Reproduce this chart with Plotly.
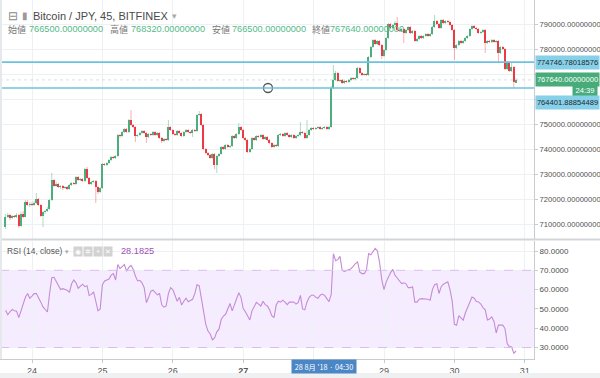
import plotly.graph_objects as go
from datetime import datetime, timedelta

# ---------------- data (prices in thousand JPY, 45-minute bars) ----------------
bar_start = datetime(2018, 8, 23, 15, 0)
bar_minutes = 45

open_k = [
    708.8, 712.8, 713.6, 712.4, 713.2, 712.8, 713.6, 709.2, 714.0, 713.0,
    718.8, 717.6, 718.0, 717.6, 718.4, 720.0, 717.6, 713.2, 714.8, 715.2,
    716.0, 719.6, 727.6, 725.2, 726.0, 724.8, 725.2, 724.4, 724.8, 724.0,
    725.6, 726.4, 726.0, 728.8, 727.6, 728.0, 727.2, 732.0, 728.4, 726.0,
    726.8, 727.2, 724.8, 722.8, 724.4, 734.0, 733.6, 734.4, 735.6, 736.8,
    736.4, 737.2, 745.6, 745.2, 746.8, 748.0, 746.8, 751.6, 749.6, 748.8,
    745.2, 745.6, 746.4, 747.2, 746.4, 744.8, 746.0, 745.6, 746.8, 745.6,
    746.4, 744.4, 743.2, 744.0, 743.6, 748.8, 747.6, 746.0, 745.6, 747.2,
    746.4, 745.2, 746.8, 747.6, 746.8, 746.4, 747.6, 747.2, 753.6, 754.0,
    749.6, 740.0, 738.4, 737.6, 736.4, 738.0, 733.6, 737.2, 738.0, 740.8,
    740.0, 741.6, 740.8, 741.2, 745.2, 744.4, 746.0, 748.8, 747.6, 744.4,
    743.6, 738.8, 740.0, 744.4, 743.6, 745.2, 744.8, 745.6, 744.0, 744.8,
    743.6, 742.4, 740.8, 741.6, 741.2, 745.6, 746.0, 745.2, 746.4, 745.6,
    744.8, 745.6, 744.4, 745.2, 745.6, 746.8, 746.4, 744.4, 745.6, 747.6,
    748.4, 748.0, 748.4, 748.8, 748.0, 748.4, 748.8, 748.0, 748.8, 764.4,
    767.6, 770.4, 767.2, 767.6, 766.4, 767.2, 766.8, 767.6, 768.4, 768.0,
    768.4, 772.4, 770.4, 769.6, 770.0, 769.6, 776.8, 780.8, 783.6, 782.0,
    783.2, 781.6, 777.2, 779.6, 784.4, 790.0, 788.4, 789.6, 790.4, 787.6,
    787.2, 788.0, 786.4, 787.6, 788.8, 786.4, 787.2, 783.2, 784.0, 785.2,
    784.4, 785.2, 786.0, 785.2, 786.0, 788.8, 791.2, 790.0, 788.4, 791.6,
    790.4, 791.2, 790.8, 789.6, 787.6, 780.4, 781.6, 783.2, 782.4, 783.2,
    784.4, 785.2, 788.0, 789.2, 788.4, 788.0, 786.4, 786.8, 787.6, 782.4,
    783.2, 782.8, 783.6, 782.8, 783.2, 778.4, 780.8, 780.0, 772.0, 774.8,
    771.2, 772.8, 766.5,
]
high_k = [
    714.0, 714.4, 714.0, 713.6, 713.6, 714.4, 714.0, 714.8, 715.2, 719.6,
    719.6, 718.8, 718.8, 719.2, 722.4, 720.4, 718.0, 715.2, 715.6, 716.8,
    720.0, 730.4, 728.0, 726.8, 726.4, 725.6, 725.6, 725.2, 725.2, 726.0,
    726.8, 726.8, 729.2, 729.2, 728.4, 728.4, 732.4, 732.8, 728.8, 727.2,
    727.6, 727.6, 725.2, 724.8, 734.4, 734.4, 734.8, 736.0, 737.2, 737.2,
    737.6, 746.0, 746.0, 747.2, 748.4, 748.4, 752.0, 755.6, 750.0, 749.2,
    746.0, 746.8, 747.6, 747.6, 746.8, 746.4, 746.4, 747.2, 747.2, 746.8,
    746.8, 744.8, 744.4, 744.4, 751.6, 749.2, 748.0, 746.4, 747.6, 747.6,
    746.8, 747.2, 748.0, 748.0, 747.2, 748.0, 748.0, 754.0, 755.2, 754.4,
    750.0, 740.4, 738.8, 738.0, 738.4, 738.4, 737.6, 738.4, 741.2, 741.2,
    742.0, 742.0, 741.6, 745.6, 745.6, 746.4, 750.4, 749.2, 748.0, 744.8,
    744.0, 740.4, 744.8, 744.8, 745.6, 745.6, 746.0, 746.0, 745.2, 745.2,
    744.0, 742.8, 742.0, 742.0, 746.0, 746.4, 746.4, 746.8, 746.8, 746.0,
    746.0, 746.0, 745.6, 746.0, 750.8, 747.2, 746.8, 751.6, 748.0, 748.8,
    748.8, 748.8, 749.2, 749.2, 748.8, 749.2, 749.2, 749.2, 765.2, 773.6,
    771.2, 770.8, 768.0, 768.0, 767.6, 767.6, 768.0, 768.8, 768.8, 768.8,
    772.8, 772.8, 770.8, 770.4, 770.4, 777.2, 781.2, 784.0, 784.0, 783.6,
    783.6, 782.0, 780.0, 784.8, 790.4, 790.4, 790.0, 791.2, 792.8, 788.0,
    788.4, 788.4, 788.0, 789.2, 789.2, 787.6, 787.6, 784.4, 785.6, 785.6,
    785.6, 786.4, 786.4, 786.4, 789.2, 793.6, 791.6, 790.4, 792.0, 792.0,
    791.6, 791.6, 791.2, 790.0, 788.0, 782.0, 783.6, 783.6, 783.6, 784.8,
    785.6, 788.4, 789.6, 789.6, 788.8, 788.4, 787.2, 788.0, 788.0, 783.6,
    783.6, 784.0, 784.0, 783.6, 783.6, 781.2, 781.2, 780.4, 775.2, 775.2,
    774.4, 773.2, 768.32,
]
low_k = [
    708.0, 712.4, 711.6, 712.0, 712.4, 712.4, 708.4, 708.8, 712.4, 712.8,
    717.2, 716.8, 717.2, 717.2, 718.0, 717.2, 712.8, 708.8, 714.0, 714.8,
    715.6, 719.2, 724.8, 724.8, 724.4, 724.0, 723.6, 724.0, 723.6, 723.6,
    725.2, 725.6, 725.6, 727.2, 727.2, 726.8, 726.8, 728.0, 725.6, 725.6,
    726.4, 718.4, 722.0, 722.4, 724.0, 733.2, 733.2, 734.0, 735.2, 736.0,
    736.0, 736.8, 744.4, 744.8, 746.4, 746.4, 746.4, 749.2, 748.4, 742.8,
    744.8, 745.2, 746.0, 746.0, 742.4, 744.4, 745.2, 745.2, 745.2, 745.2,
    744.0, 742.4, 742.8, 743.2, 743.2, 747.2, 745.6, 745.2, 745.2, 746.0,
    744.8, 744.8, 746.4, 746.4, 746.0, 744.8, 746.8, 746.8, 753.2, 749.2,
    739.6, 738.0, 737.2, 736.0, 736.0, 732.0, 730.4, 736.8, 737.6, 739.6,
    739.6, 740.4, 740.4, 740.8, 744.0, 744.0, 745.6, 747.2, 744.0, 743.2,
    738.4, 738.4, 739.6, 743.2, 743.2, 744.4, 744.4, 743.6, 743.6, 743.2,
    742.0, 740.4, 740.4, 740.8, 740.8, 745.2, 744.8, 744.8, 745.2, 744.4,
    744.4, 744.0, 744.0, 744.8, 745.2, 746.0, 744.0, 744.0, 745.2, 747.2,
    747.6, 747.6, 748.0, 747.6, 747.6, 748.0, 747.6, 747.6, 748.4, 764.0,
    767.2, 766.8, 766.8, 766.0, 766.0, 766.4, 766.4, 767.2, 767.6, 767.6,
    768.0, 770.0, 769.2, 769.2, 769.2, 769.2, 776.4, 780.4, 781.6, 781.6,
    781.2, 776.0, 776.8, 779.2, 784.0, 788.0, 788.0, 789.2, 787.2, 786.8,
    786.8, 782.4, 786.0, 787.2, 786.0, 786.0, 782.8, 782.8, 783.6, 784.0,
    784.0, 784.8, 784.8, 784.8, 785.6, 788.4, 789.6, 788.0, 788.0, 790.0,
    790.0, 790.4, 789.2, 787.2, 775.6, 780.0, 781.2, 782.0, 782.0, 782.8,
    784.0, 784.8, 787.6, 788.0, 787.6, 786.0, 786.0, 786.4, 778.4, 782.0,
    782.4, 782.4, 782.4, 782.4, 774.8, 778.0, 779.6, 771.6, 771.6, 770.8,
    770.8, 764.4, 766.5,
]
close_k = [
    712.8, 713.6, 712.4, 713.2, 712.8, 713.6, 709.2, 714.0, 713.0, 718.8,
    717.6, 718.0, 717.6, 718.4, 720.0, 717.6, 713.2, 714.8, 715.2, 716.0,
    719.6, 727.6, 725.2, 726.0, 724.8, 725.2, 724.4, 724.8, 724.0, 725.6,
    726.4, 726.0, 728.8, 727.6, 728.0, 727.2, 732.0, 728.4, 726.0, 726.8,
    727.2, 724.8, 722.8, 724.4, 734.0, 733.6, 734.4, 735.6, 736.8, 736.4,
    737.2, 745.6, 745.2, 746.8, 748.0, 746.8, 751.6, 749.6, 748.8, 745.2,
    745.6, 746.4, 747.2, 746.4, 744.8, 746.0, 745.6, 746.8, 745.6, 746.4,
    744.4, 743.2, 744.0, 743.6, 748.8, 747.6, 746.0, 745.6, 747.2, 746.4,
    745.2, 746.8, 747.6, 746.8, 746.4, 747.6, 747.2, 753.6, 754.0, 749.6,
    740.0, 738.4, 737.6, 736.4, 738.0, 733.6, 737.2, 738.0, 740.8, 740.0,
    741.6, 740.8, 741.2, 745.2, 744.4, 746.0, 748.8, 747.6, 744.4, 743.6,
    738.8, 740.0, 744.4, 743.6, 745.2, 744.8, 745.6, 744.0, 744.8, 743.6,
    742.4, 740.8, 741.6, 741.2, 745.6, 746.0, 745.2, 746.4, 745.6, 744.8,
    745.6, 744.4, 745.2, 745.6, 746.8, 746.4, 744.4, 745.6, 747.6, 748.4,
    748.0, 748.4, 748.8, 748.0, 748.4, 748.8, 748.0, 748.8, 764.4, 767.6,
    770.4, 767.2, 767.6, 766.4, 767.2, 766.8, 767.6, 768.4, 768.0, 768.4,
    772.4, 770.4, 769.6, 770.0, 769.6, 776.8, 780.8, 783.6, 782.0, 783.2,
    781.6, 777.2, 779.6, 784.4, 790.0, 788.4, 789.6, 790.4, 787.6, 787.2,
    788.0, 786.4, 787.6, 788.8, 786.4, 787.2, 783.2, 784.0, 785.2, 784.4,
    785.2, 786.0, 785.2, 786.0, 788.8, 791.2, 790.0, 788.4, 791.6, 790.4,
    791.2, 790.8, 789.6, 787.6, 780.4, 781.6, 783.2, 782.4, 783.2, 784.4,
    785.2, 788.0, 789.2, 788.4, 788.0, 786.4, 786.8, 787.6, 782.4, 783.2,
    782.8, 783.6, 782.8, 783.2, 778.4, 780.8, 780.0, 772.0, 774.8, 771.2,
    772.8, 766.8, 767.64,
]
rsi = [
    49.3, 47.0, 48.5, 49.7, 49.0, 48.8, 45.5, 49.0, 51.4, 56.0,
    58.0, 55.5, 56.6, 57.9, 58.0, 55.3, 53.5, 51.0, 49.5, 48.4,
    58.0, 66.2, 66.4, 64.5, 62.0, 60.0, 60.5, 60.0, 59.7, 58.5,
    63.0, 65.0, 63.5, 60.7, 62.0, 62.8, 61.5, 62.0, 57.0, 57.5,
    58.8, 53.0, 49.0, 50.0, 62.5, 64.5, 64.8, 65.5, 67.5, 68.3,
    65.0, 73.0, 70.9, 72.0, 73.0, 69.5, 71.5, 72.5, 70.5, 67.0,
    64.5, 64.8, 63.5, 61.0, 53.2, 56.0, 59.2, 59.7, 58.5, 57.3,
    57.9, 52.0, 50.9, 51.5, 57.9, 61.0, 60.0, 56.5, 54.0, 56.0,
    52.0, 54.0, 55.5, 53.7, 54.2, 55.0, 57.9, 62.5, 62.0, 55.0,
    50.0, 42.0, 38.5, 37.0, 34.0, 35.0, 38.1, 39.5, 44.5, 46.3,
    47.2, 50.0, 52.8, 49.0, 52.0, 56.0, 58.4, 56.0, 50.2, 48.5,
    46.5, 44.3, 49.0, 51.0, 53.4, 52.5, 51.5, 54.0, 52.2, 51.5,
    49.5, 46.5, 45.5, 52.0, 54.0, 53.5, 54.5, 53.5, 52.2, 53.5,
    53.6, 53.6, 52.5, 53.2, 57.0, 50.0, 49.5, 53.6, 56.0, 57.1,
    57.1, 56.0, 55.5, 57.1, 57.7, 57.0, 55.3, 53.8, 57.5, 78.6,
    75.0, 75.5, 77.2, 70.0, 69.4, 70.0, 70.4, 70.8, 72.0, 73.5,
    74.3, 69.0, 68.3, 68.3, 70.0, 78.6, 78.0, 79.5, 81.3, 80.0,
    74.0, 65.0, 60.0, 64.0, 66.5, 68.8, 70.5, 67.4, 66.0, 64.3,
    63.1, 63.5, 63.0, 61.0, 61.0, 61.5, 53.5, 53.5, 55.0, 55.3,
    55.3, 55.3, 55.0, 54.5, 60.0, 62.5, 63.0, 58.0, 61.5, 62.8,
    63.4, 64.0, 60.0, 54.0, 42.0, 41.5, 46.5, 45.5, 44.2, 48.0,
    51.0, 53.6, 56.2, 55.5, 53.8, 53.6, 52.5, 50.7, 49.5, 44.3,
    44.8, 45.9, 43.5, 37.5, 41.6, 41.6, 41.6, 39.8, 32.0, 30.3,
    30.3, 27.0, 28.1825,
]

line_upper = 774746.78018576
line_lower = 764401.88854489
price_ticks = [710000, 720000, 730000, 740000, 750000, 760000, 770000, 780000, 790000]
price_hidden = [760000, 770000]          # covered by the price labels in the reference
rsi_ticks = [30, 40, 50, 60, 70, 80]
day_ticks = [datetime(2018, 8, d) for d in range(24, 32)]
day_labels = ["24", "25", "26", "<b>27</b>", "", "29", "30", "31"]
crosshair_label = "28 8月 '18 · 04:30"
countdown_label = "24:39"

# ---------------- derived ----------------
times = [bar_start + timedelta(minutes=bar_minutes * i) for i in range(len(close_k))]
O = [v * 1000 for v in open_k]
H = [v * 1000 for v in high_k]
L = [v * 1000 for v in low_k]
C = [v * 1000 for v in close_k]

UP = "#4caf7d"
DOWN = "#ec3a45"
UP_WICK = "rgba(76,175,125,0.45)"
DOWN_WICK = "rgba(236,58,69,0.40)"
GRID = "#eef1f3"
AXIS = "#c8cbcf"
TXT = "#4a4a4a"
FONT = "Liberation Sans, Arial, sans-serif"
JP = "Noto Sans CJK JP, sans-serif"
AXSIZE = 7.6

PW, PH = 534.0, 359.0


def ax(xp):
    return xp / PW


def ay(yp):
    return (PH - yp) / PH


wx_up, wy_up, wx_dn, wy_dn = [], [], [], []
for t, o, h, l, c in zip(times, O, H, L, C):
    if c >= o:
        wx_up += [t, t, None]
        wy_up += [l, h, None]
    else:
        wx_dn += [t, t, None]
        wy_dn += [l, h, None]

body_base = [min(o, c) for o, c in zip(O, C)]
body_h = [max(abs(c - o), 350) for o, c in zip(O, C)]
body_col = [UP if c >= o else DOWN for o, c in zip(O, C)]

fig = go.Figure()
fig.add_trace(go.Scatter(x=wx_up, y=wy_up, mode="lines", line=dict(color=UP_WICK, width=1),
                         hoverinfo="skip", xaxis="x", yaxis="y"))
fig.add_trace(go.Scatter(x=wx_dn, y=wy_dn, mode="lines", line=dict(color=DOWN_WICK, width=1),
                         hoverinfo="skip", xaxis="x", yaxis="y"))
fig.add_trace(go.Bar(x=times, y=body_h, base=body_base, width=bar_minutes * 60 * 1000 * 0.72,
                     marker=dict(color=body_col, line=dict(width=0)), xaxis="x", yaxis="y"))
fig.add_trace(go.Scatter(x=times, y=rsi, mode="lines", line=dict(color="#c58bd6", width=1.1),
                         xaxis="x2", yaxis="y2"))
fig.add_trace(go.Scatter(x=[datetime(2018, 8, 27, 8, 27)], y=[line_lower], mode="markers",
                         marker=dict(size=9, color="white", line=dict(color="#555555", width=1.3)),
                         xaxis="x", yaxis="y", cliponaxis=False))

t0 = datetime(2018, 8, 24) - timedelta(days=32 / 70.4)
t1 = datetime(2018, 8, 24) + timedelta(days=502 / 70.4)

shapes = [
    dict(type="rect", xref="paper", yref="y2", x0=0, x1=1, y0=30, y1=70,
         fillcolor="rgba(160,80,255,0.10)", line=dict(width=0), layer="below"),
    dict(type="line", xref="paper", yref="y2", x0=0, x1=1, y0=70, y1=70,
         line=dict(color="#dcbdec", width=1, dash="dash")),
    dict(type="line", xref="paper", yref="y2", x0=0, x1=1, y0=30, y1=30,
         line=dict(color="#dcbdec", width=1, dash="dash")),
    dict(type="line", xref="paper", yref="y", x0=0, x1=1, y0=C[-1], y1=C[-1],
         line=dict(color="rgba(76,175,125,0.30)", width=1, dash="dot")),
    dict(type="line", xref="paper", yref="y", x0=0, x1=1, y0=line_upper, y1=line_upper,
         line=dict(color="#6cc3df", width=1.6)),
    dict(type="line", xref="paper", yref="y", x0=0, x1=1, y0=line_lower, y1=line_lower,
         line=dict(color="#6cc3df", width=1.6)),
    dict(type="line", xref="paper", yref="paper", x0=0, x1=600 / PW, y0=ay(239.5), y1=ay(239.5),
         line=dict(color="#d3d6d9", width=2)),
    dict(type="rect", xref="paper", yref="paper", x0=0, x1=600 / PW, y0=ay(378), y1=ay(373),
         fillcolor="#eef0f2", line=dict(width=0)),
    dict(type="rect", xref="paper", yref="paper", x0=0, x1=ax(2), y0=0, y1=1,
         fillcolor="#e6e9ec", line=dict(width=0)),
]

ann = []


def label(x, y, text, size=9, color=TXT, family=FONT, anchor="left", **kw):
    ann.append(dict(xref="paper", yref="paper", x=ax(x), y=ay(y), text=text, showarrow=False,
                    xanchor=anchor, yanchor="middle", font=dict(size=size, color=color, family=family), **kw))


# top legend
label(6, 15.5, "⊟", size=12, color="#8a8a8a")
label(20, 15.5, "▮", size=10, color="#9a9a9a")
label(31, 15.5, "Bitcoin / JPY, 45, BITFINEX", size=11, color=TXT)
label(170, 15.5, "▾", size=9, color="#aaaaaa")
VAL = "#53b987"
label(6, 29.5, "始値", size=9, color="#777777", family=JP)
label(27, 29.5, f"{O[-1]:.8f}", size=9.2, color=VAL)
label(108, 29.5, "高値", size=9, color="#777777", family=JP)
label(129, 29.5, f"{H[-1]:.8f}", size=9.2, color=VAL)
label(210, 29.5, "安値", size=9, color="#777777", family=JP)
label(230, 29.5, f"{L[-1]:.8f}", size=9.2, color=VAL)
label(310, 29.5, "終値", size=9, color="#777777", family=JP)
label(328, 29.5, f"{C[-1]:.8f}", size=9.2, color=VAL)

# RSI legend
label(5, 251, "RSI (14, close)", size=8.4, color="#555555")
label(63, 251, "▾", size=7, color="#aaaaaa")
for i, g in enumerate(["◉", "✲", "+", "✕"]):
    label(73 + i * 10, 251, g, size=7, color="white", bgcolor="#d2d2d2", width=8, height=9,
          borderpad=0, align="center")
label(119, 251, f"{rsi[-1]:.4f}", size=9.2, color="#9c4fb7")

# right price labels
ann.append(dict(xref="paper", yref="y", x=ax(535), y=line_upper, text=f"{line_upper:.8f}",
                showarrow=False, xanchor="left", yanchor="middle", bgcolor="#86d0e8",
                font=dict(size=AXSIZE, color="#1e2a30", family=FONT), width=63, height=13,
                align="center", borderpad=0))
ann.append(dict(xref="paper", yref="y", x=ax(535), y=C[-1], text=f"{C[-1]:.8f}",
                showarrow=False, xanchor="left", yanchor="middle", bgcolor="#47ac79",
                font=dict(size=AXSIZE, color="white", family=FONT), width=63, height=13,
                align="center", borderpad=0))
label(598, 91, countdown_label, size=AXSIZE, color="white", family=FONT, anchor="right",
      bgcolor="#47ac79", width=24, height=11, borderpad=0, align="center")
label(535, 102, f"{line_lower:.8f}", size=AXSIZE, color="#1e2a30", family=FONT,
      bgcolor="#86d0e8", width=63, height=13, borderpad=0, align="center")

# crosshair date label
label(323.5, 366.5, crosshair_label, size=7.3, color="white", family=JP, anchor="center",
      bgcolor="#4b86c5", width=64, height=13, borderpad=0, align="center")

fig.update_layout(
    width=600, height=378,
    margin=dict(l=0, r=66, t=0, b=19),
    paper_bgcolor="white", plot_bgcolor="white",
    showlegend=False, bargap=0, hovermode=False,
    xaxis=dict(domain=[0, 1], range=[t0, t1], type="date", anchor="y",
               tickvals=day_ticks, showticklabels=False, showgrid=True, gridcolor=GRID,
               zeroline=False, showline=False),
    xaxis2=dict(matches="x", type="date", anchor="y2", tickvals=day_ticks, ticktext=day_labels,
                showgrid=True, gridcolor=GRID, showline=True, linecolor=AXIS, linewidth=1,
                ticks="outside", ticklen=3, tickcolor=AXIS, zeroline=False,
                tickfont=dict(size=9, color="#555555", family=FONT)),
    yaxis=dict(domain=[(PH - 239) / PH, 1], range=[704000, 799600], side="right", anchor="x",
               tickvals=price_ticks,
               ticktext=["" if v in price_hidden else f"{v:.8f}" for v in price_ticks],
               showgrid=True, gridcolor=GRID, zeroline=False, showline=True, linecolor=AXIS,
               ticks="outside", ticklen=3, tickcolor=AXIS,
               tickfont=dict(size=AXSIZE, color="#4f4f4f", family=FONT)),
    yaxis2=dict(domain=[0, (PH - 241) / PH], range=[24.04, 85.18], side="right", anchor="x2",
                tickvals=rsi_ticks, ticktext=[f"{v:.4f}" for v in rsi_ticks],
                showgrid=True, gridcolor=GRID, zeroline=False, showline=True, linecolor=AXIS,
                ticks="outside", ticklen=3, tickcolor=AXIS,
                tickfont=dict(size=AXSIZE + 0.4, color="#4f4f4f", family=FONT)),
    shapes=shapes,
    annotations=ann,
)

fig.write_html("out.html", config={"displayModeBar": False},
               post_script="document.body.style.margin='0';document.body.style.overflow='hidden';")
